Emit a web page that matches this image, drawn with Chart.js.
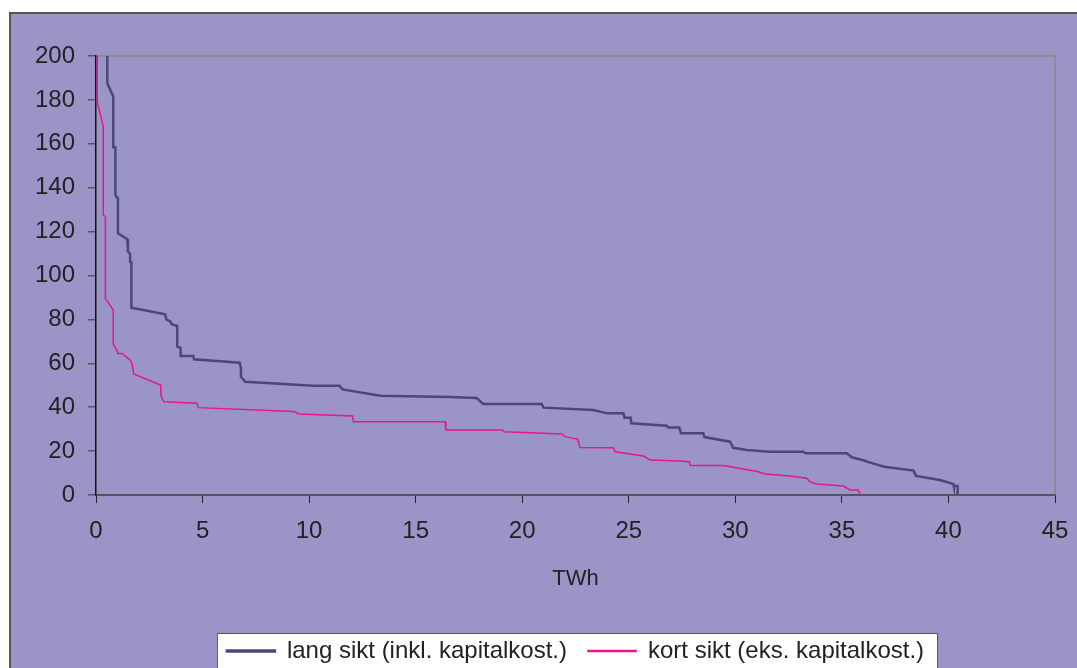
<!DOCTYPE html>
<html>
<head>
<meta charset="utf-8">
<script src="https://cdn.jsdelivr.net/npm/chart.js@4/dist/chart.umd.min.js"></script>
<style>
  html, body { margin: 0; padding: 0; background: #fff; overflow: hidden; }
  canvas { display: block; }
</style>
</head>
<body>
<canvas id="myChart" width="1077" height="680"></canvas>
<script>
// lang sikt (inkl. kapitalkost.) - TWh / value pairs
var langX = [0.53, 0.53, 0.81, 0.81, 0.91, 0.91, 1.03, 1.03, 1.47, 1.5, 1.6, 1.6, 1.66, 1.66,
  3.25, 3.3, 3.5, 3.53, 3.81, 3.81, 3.97, 3.97, 4.57, 4.6, 6.74, 6.8, 6.8, 7.0,
  10.2, 11.42, 11.57, 13.33, 16.6, 17.86, 18.17, 20.91, 21.0, 23.34, 23.99, 24.75, 24.8,
  25.09, 25.12, 26.78, 26.86, 27.37, 27.45, 28.5, 28.55, 29.75, 29.9, 30.53, 31.63, 33.19,
  33.3, 35.23, 35.46, 36.09, 36.17, 36.98, 38.36, 38.48, 39.6, 40.23, 40.25, 40.43, 40.43];
var langY = [230, 187.6, 181.5, 158.4, 158.4, 136.7, 135, 119.2, 116.5, 110.9, 110, 106.3, 106, 85.3,
  82.3, 80, 79, 77.9, 77, 67.6, 67, 63.3, 63.3, 61.8, 60.3, 58, 53.9, 51.6,
  49.8, 49.8, 48.1, 45.2, 44.6, 44.2, 41.5, 41.5, 39.8, 38.7, 37.2, 37.2, 35.2,
  35.2, 32.7, 31.6, 30.7, 30.7, 28.1, 28.1, 26.4, 24.3, 21.5, 20.5, 19.7, 19.7,
  19.0, 19.0, 17.2, 15.6, 15.2, 12.9, 11.1, 8.7, 6.8, 5.0, 4.1, 4.1, 0];

// kort sikt (eks. kapitalkost.)
var kortX = [0.06, 0.06, 0.34, 0.34, 0.44, 0.44, 0.81, 0.81, 0.95, 1.03, 1.23, 1.63, 1.7, 1.77,
  3.03, 3.06, 3.19, 4.74, 4.8, 9.01, 9.34, 9.5, 12.04, 12.08, 16.38, 16.42, 19.08, 19.15,
  21.85, 22.0, 22.4, 22.6, 22.71, 24.28, 24.35, 25.69, 26.0, 27.33, 27.84, 27.88, 29.44,
  31.08, 31.4, 32.57, 33.35, 33.5, 33.8, 35.07, 35.38, 35.77, 35.85];
var kortY = [230, 179.2, 167.8, 127.6, 126.8, 89.6, 84.3, 68.8, 66.4, 64.5, 64.5, 61.2, 59.2, 55.1,
  50.1, 44.8, 42.5, 41.8, 39.8, 38.1, 37.9, 36.9, 36.0, 33.4, 33.4, 29.6, 29.6, 28.8,
  27.8, 26.6, 25.8, 25.5, 21.6, 21.5, 19.7, 17.8, 15.9, 15.5, 15.2, 13.4, 13.4,
  10.6, 9.6, 8.7, 7.6, 6.1, 5.0, 4.1, 2.3, 2.3, 0];

var xTicks = [0, 5, 10, 15, 20, 25, 30, 35, 40, 45];
var yTicks = [0, 20, 40, 60, 80, 100, 120, 140, 160, 180, 200];

function points(xs, ys) {
  return xs.map(function (x, i) { return {x: x, y: ys[i]}; });
}

var bg = '#9B95C7';
var fontFamily = "'Liberation Sans', Arial, sans-serif";

// frame, plot border and legend box
var framePlugin = {
  id: 'frame',
  beforeDraw: function (chart) {
    var c = chart.ctx, a = chart.chartArea;
    c.save();
    c.fillStyle = '#fff';
    c.fillRect(0, 0, chart.width, chart.height);
    c.fillStyle = bg;
    c.fillRect(10, 13, chart.width, chart.height);
    c.strokeStyle = '#555';
    c.lineWidth = 2;
    c.beginPath();
    c.moveTo(10, chart.height);
    c.lineTo(10, 13);
    c.lineTo(chart.width, 13);
    c.stroke();

    var boxes = chart.legend.legendHitBoxes;
    if (boxes && boxes.length) {
      var l = boxes[0].left, r = boxes[boxes.length - 1].left + boxes[boxes.length - 1].width;
      var mid = boxes[0].top + boxes[0].height / 2;
      c.fillStyle = '#fff';
      c.fillRect(l - 10, mid - 18, r - l + 23, chart.height);
      c.strokeStyle = '#555';
      c.lineWidth = 1;
      c.strokeRect(l - 10 + 0.5, mid - 18 + 0.5, r - l + 23, chart.height);
    }

    c.strokeStyle = '#8C8C8C';
    c.lineWidth = 2;
    c.beginPath();
    c.moveTo(a.left, a.top);
    c.lineTo(a.right, a.top);
    c.lineTo(a.right, a.bottom);
    c.stroke();
    c.restore();
  }
};

var ctx = document.getElementById('myChart').getContext('2d');
var chart = new Chart(ctx, {
  type: 'scatter',
  data: {
    datasets: [{
      label: 'lang sikt (inkl. kapitalkost.)',
      data: points(langX, langY),
      showLine: true,
      borderColor: '#4B4878',
      backgroundColor: '#4B4878',
      borderWidth: 2.5,
      pointRadius: 0,
      tension: 0
    },
    {
      label: 'kort sikt (eks. kapitalkost.)',
      data: points(kortX, kortY),
      showLine: true,
      borderColor: '#E8168C',
      backgroundColor: '#E8168C',
      borderWidth: 1.5,
      pointRadius: 0,
      tension: 0
    }]
  },
  options: {
    responsive: false,
    animation: false,
    layout: { padding: { left: 0, right: 22, top: 56, bottom: 7 } },
    plugins: {
      tooltip: { enabled: false },
      legend: {
        position: 'bottom',
        fullSize: false,
        labels: {
          boxWidth: 48,
          boxHeight: 1,
          padding: 21,
          color: '#222',
          font: { family: fontFamily, size: 24 }
        }
      }
    },
    scales: {
      x: {
        type: 'linear',
        min: 0,
        max: 45,
        afterFit: function (s) { s.height = 123; s.paddingLeft = 0; s.paddingRight = 0; },
        afterBuildTicks: function (s) { s.ticks = xTicks.map(function (v) { return {value: v}; }); },
        grid: { drawOnChartArea: false, tickLength: 8, color: '#222', lineWidth: 1 },
        border: { color: '#555', width: 2 },
        ticks: { padding: 14, color: '#222', font: { family: fontFamily, size: 24 } },
        title: {
          display: true,
          text: 'TWh',
          color: '#222',
          padding: { top: 0, bottom: 26 },
          font: { family: fontFamily, size: 22 }
        }
      },
      y: {
        min: 0,
        max: 200,
        afterFit: function (s) { s.width = 96; },
        afterBuildTicks: function (s) { s.ticks = yTicks.map(function (v) { return {value: v}; }); },
        grid: { drawOnChartArea: false, tickLength: 8, color: '#555', lineWidth: 1.5 },
        border: { color: '#111', width: 1.5 },
        ticks: { padding: 13, color: '#222', font: { family: fontFamily, size: 24 } }
      }
    }
  },
  plugins: [framePlugin]
});
</script>
</body>
</html>
